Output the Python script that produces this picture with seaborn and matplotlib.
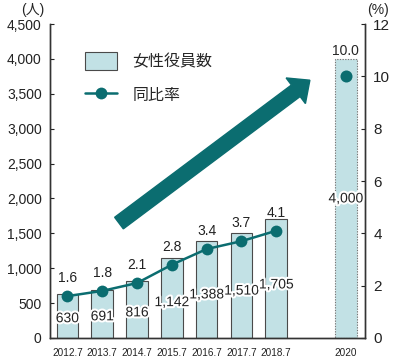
import numpy as np
import pandas as pd
import seaborn as sns
import matplotlib.pyplot as plt
import matplotlib.patheffects as pe
from matplotlib.patches import Patch, FancyArrow
from matplotlib.lines import Line2D

# データ
years = ['2012.7', '2013.7', '2014.7', '2015.7', '2016.7', '2017.7', '2018.7', '2020']
xpos = [0, 1, 2, 3, 4, 5, 6, 8]
members = [630, 691, 816, 1142, 1388, 1510, 1705, 4000]
rates = [1.6, 1.8, 2.1, 2.8, 3.4, 3.7, 4.1, 10.0]

bar_color = '#c2e1e5'
teal = '#0b6d70'

sns.set_style('ticks')
plt.rcParams['font.family'] = ['Liberation Sans', 'Noto Sans CJK JP']

fig = plt.figure(figsize=(4, 3.62), dpi=100)
ax = fig.add_axes([0.125, 0.0663, 0.7875, 0.8674])

df = pd.DataFrame({'pos': xpos, 'members': members})
sns.barplot(data=df, x='pos', y='members', native_scale=True, width=0.62,
            color=bar_color, saturation=1, edgecolor='#4a4a4a', linewidth=0.8,
            errorbar=None, ax=ax)
# 2020年目標は点線
last = ax.patches[-1]
last.set_linestyle((0, (1.2, 1.2)))
last.set_edgecolor('#777777')

ax.set_xlim(-0.5, 8.55)
ax.set_ylim(0, 4500)
ax.set_yticks(range(0, 4501, 500))
ax.set_yticklabels([f'{v:,}' for v in range(0, 4501, 500)], fontsize=10)
ax.set_xticks(xpos)
ax.set_xticklabels(years, fontsize=7.2)
ax.set_xlabel('')
ax.set_ylabel('')
ax.tick_params(axis='y', direction='in', length=3, pad=6, colors='#222222')
ax.tick_params(axis='x', length=0, pad=7, colors='#222222')

stroke = [pe.withStroke(linewidth=3, foreground='white')]
for x, v in zip(xpos, members):
    frac = 0.5 if x == 8 else 0.45
    ax.text(x, v * frac, f'{v:,}', ha='center', va='center', fontsize=10,
            color='#222222', path_effects=stroke)
ax.annotate(f'{rates[-1]:.1f}', (xpos[-1], members[-1]), xytext=(0, 1),
            textcoords='offset points', ha='center', va='bottom', fontsize=10)

# 比率（右軸）
ax2 = ax.twinx()
sns.lineplot(x=xpos[:7], y=rates[:7], ax=ax2, color=teal, linewidth=1.8,
             marker='o', markersize=8.5, markeredgewidth=0)
sns.scatterplot(x=xpos[7:], y=rates[7:], ax=ax2, color=teal, s=75, linewidth=0)
for x, r in zip(xpos[:7], rates[:7]):
    ax2.annotate(f'{r:.1f}', (x, r), xytext=(0, 13), textcoords='offset points',
                 ha='center', va='center', fontsize=10, color='#222222')
ax2.set_ylim(0, 12)
ax2.set_yticks(range(0, 13, 2))
ax2.set_yticklabels([str(v) for v in range(0, 13, 2)], fontsize=11)
ax2.tick_params(axis='y', direction='in', length=3, pad=6, colors='#222222')
ax2.set_xlim(-0.5, 8.55)

for a in (ax, ax2):
    a.spines['top'].set_visible(False)
    for s in ('left', 'right', 'bottom'):
        a.spines[s].set_color('#333333')
        a.spines[s].set_linewidth(1)

# 矢印
arrow = FancyArrow(0.219, 0.366, 0.606, 0.455, width=0.046, head_width=0.102,
                   head_length=0.056, length_includes_head=True, color=teal,
                   transform=ax2.transAxes, zorder=5)
ax2.add_patch(arrow)

# 凡例
handles = [Patch(facecolor=bar_color, edgecolor='#4a4a4a', linewidth=0.8),
           Line2D([], [], color=teal, linewidth=1.8, marker='o', markersize=8.5,
                  markeredgewidth=0)]
ax2.legend(handles, ['女性役員数', '同比率'], loc='upper left',
           bbox_to_anchor=(0.11, 0.91), frameon=False, fontsize=11.5,
           borderpad=0, borderaxespad=0,
           handlelength=2.05, handleheight=1.35, labelspacing=0.95, handletextpad=0.95)

fig.text(0.083, 0.972, '(人)', ha='center', va='center', fontsize=10)
fig.text(0.945, 0.972, '(%)', ha='center', va='center', fontsize=10)

fig.savefig('out.png', dpi=100)
